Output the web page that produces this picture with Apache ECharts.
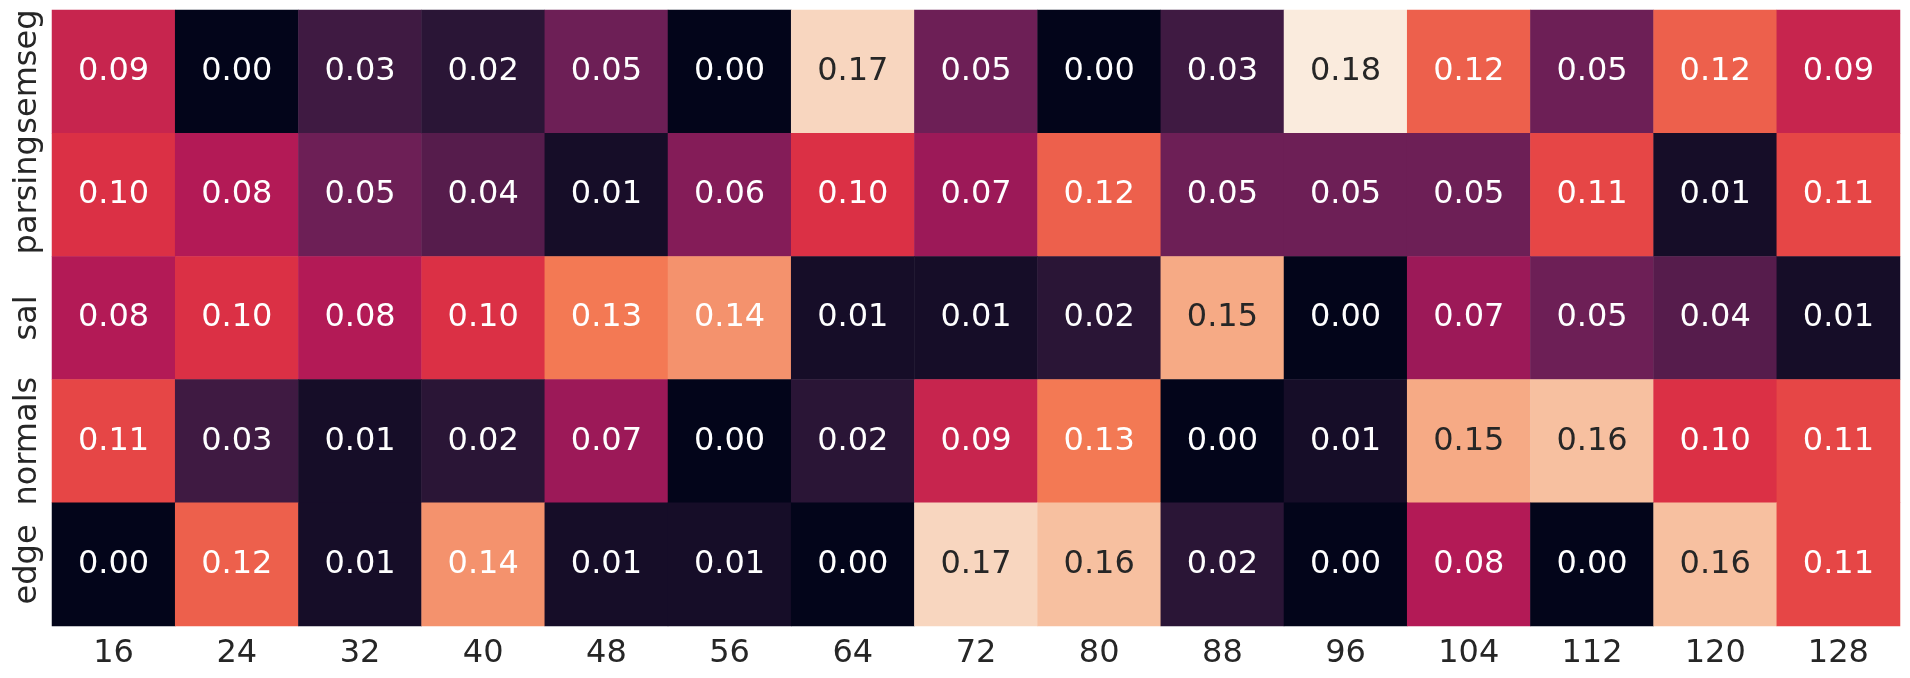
<!DOCTYPE html>
<html lang="en">
<head>
    <meta charset="utf-8">
    <title>heatmap</title>
    <style>
        html, body { margin: 0; padding: 0; background: #fff; }
    </style>
</head>
<body>
<div id="main" style="width: 1910px;height: 678px"></div>

<script src="https://cdn.jsdelivr.net/npm/echarts@6/dist/echarts.min.js"></script>
<script type="text/javascript">
    // column / row labels
    var sizes = ['16', '24', '32', '40', '48', '56', '64', '72', '80', '88', '96', '104', '112', '120', '128'];
    var tasks = ['semseg', 'parsing', 'sal', 'normals', 'edge'];

    // one array per row
    var semseg  = [0.09, 0.00, 0.03, 0.02, 0.05, 0.00, 0.17, 0.05, 0.00, 0.03, 0.18, 0.12, 0.05, 0.12, 0.09];
    var parsing = [0.10, 0.08, 0.05, 0.04, 0.01, 0.06, 0.10, 0.07, 0.12, 0.05, 0.05, 0.05, 0.11, 0.01, 0.11];
    var sal     = [0.08, 0.10, 0.08, 0.10, 0.13, 0.14, 0.01, 0.01, 0.02, 0.15, 0.00, 0.07, 0.05, 0.04, 0.01];
    var normals = [0.11, 0.03, 0.01, 0.02, 0.07, 0.00, 0.02, 0.09, 0.13, 0.00, 0.01, 0.15, 0.16, 0.10, 0.11];
    var edge    = [0.00, 0.12, 0.01, 0.14, 0.01, 0.01, 0.00, 0.17, 0.16, 0.02, 0.00, 0.08, 0.00, 0.16, 0.11];

    var rows = [semseg, parsing, sal, normals, edge];

    // seaborn "rocket"
    var rocket = ['#03051a', '#35193e', '#701f57', '#ad1759', '#e13342', '#f37651', '#f6b48f', '#faebdd'];
    var vmin = 0, vmax = 0.18;

    var data = [];
    rows.forEach(function (row, r) {
        row.forEach(function (v, c) {
            data.push({
                value: [c, r, v],
                label: { color: v >= 0.145 ? '#262626' : '#ffffff' }
            });
        });
    });

    var myChart = echarts.init(document.getElementById('main'));

    var option = {
        animation: false,
        textStyle: { fontFamily: 'DejaVu Sans' },
        grid: {
            left: 52,
            right: 10,
            top: 10,
            bottom: 52
        },
        xAxis: {
            type: 'category',
            data: sizes,
            axisLine: { show: false },
            axisTick: { show: false },
            splitArea: { show: false },
            axisLabel: { interval: 0, fontSize: 32, color: '#262626', margin: 12, fontFamily: 'DejaVu Sans' }
        },
        yAxis: {
            type: 'category',
            data: tasks,
            inverse: true,
            axisLine: { show: false },
            axisTick: { show: false },
            splitArea: { show: false },
            axisLabel: { interval: 0, fontSize: 32, color: '#262626', rotate: 90, margin: 8, fontFamily: 'DejaVu Sans' }
        },
        visualMap: {
            show: false,
            min: vmin,
            max: vmax,
            dimension: 2,
            inRange: { color: rocket }
        },
        series: [{
            type: 'heatmap',
            data: data,
            label: {
                show: true,
                fontSize: 32,
                fontFamily: 'DejaVu Sans',
                formatter: function (p) { return p.value[2].toFixed(2); }
            },
            itemStyle: { borderWidth: 0 },
            emphasis: { disabled: true }
        }]
    };

    myChart.setOption(option);
</script>
</body>
</html>
